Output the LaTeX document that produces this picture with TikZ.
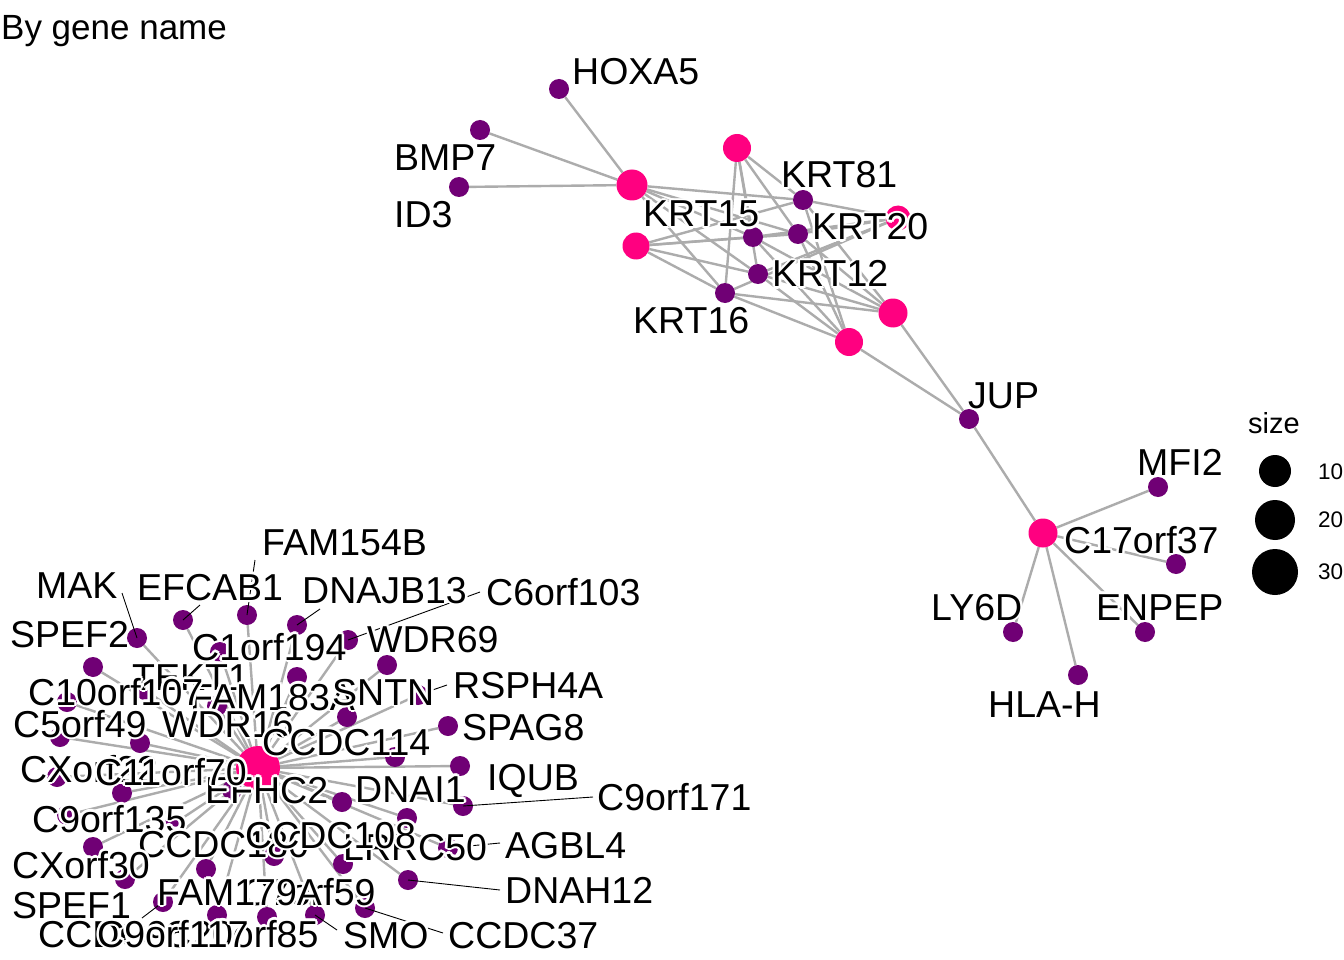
\documentclass[tikz,border=0pt]{standalone}
\usepackage{fontspec}
\setmainfont{Liberation Sans}
\usetikzlibrary{backgrounds}
\definecolor{catpink}{RGB}{255,0,128}
\definecolor{genepurple}{RGB}{112,0,117}
\definecolor{edgegrey}{RGB}{172,172,172}
\tikzset{
  gene/.style={circle,fill=genepurple,inner sep=0pt,minimum size=20pt},
  cat/.style={circle,fill=catpink,inner sep=0pt},
  edge/.style={draw=edgegrey,line width=2.4pt},
  leader/.style={draw=black,line width=0.9pt},
  lab/.style={font=\fontsize{37.5}{40}\selectfont,inner sep=0pt,anchor=base west},
  legdot/.style={circle,fill=black,inner sep=0pt},
}
\newcommand{\glab}[3]{%
  \foreach \hx/\hy in {2.6/0,-2.6/0,0/2.6,0/-2.6,1.85/1.85,-1.85/1.85,1.85/-1.85,-1.85/-1.85}{%
    \node[lab,text=white] at ([shift={(\hx pt,\hy pt)}]#2) {#3};}%
  \node[lab] (#1) at (#2) {#3};}
\begin{document}
\begin{tikzpicture}[x=1pt,y=-1pt]
\useasboundingbox (0,0) rectangle (1344,960);
% ---------- top cluster nodes
\node[gene] (HOXA5) at (559,89) {};
\node[gene] (BMP7) at (480,130) {};
\node[gene] (ID3) at (459,187) {};
\node[gene] (KRT81) at (803,200) {};
\node[gene] (KRT15) at (753,237) {};
\node[gene] (KRT20) at (798,234) {};
\node[gene] (KRT12) at (758,274) {};
\node[gene] (KRT16) at (725,293) {};
\node[gene] (JUP) at (969,419) {};
\node[cat,minimum size=31pt] (cA) at (632,185) {};
\node[cat,minimum size=28pt] (cB) at (737,148) {};
\node[cat,minimum size=27pt] (cC) at (636,246) {};
\node[cat,minimum size=25pt] (cD) at (898,218) {};
\node[cat,minimum size=29pt] (cE) at (893,313) {};
\node[cat,minimum size=28pt] (cF) at (849,342) {};
% ---------- right cluster
\node[gene] (MFI2) at (1158,487) {};
\node[gene] (C17orf37) at (1176,564) {};
\node[gene] (LY6D) at (1013,632) {};
\node[gene] (ENPEP) at (1145,632) {};
\node[gene] (HLAH) at (1078,675) {};
\node[cat,minimum size=29pt] (cG) at (1043,533) {};
% ---------- lower-left cluster
\foreach \i/\px/\py in {1/137/638,2/93/667,3/183/620,4/247/615,5/297/625,6/348/640,7/387/665,
  8/220/652,9/145/690,10/67/702,11/217/706,12/297/677,13/347/717,14/418/695,15/448/726,
  16/395/757,17/140/743,18/60/737,19/57/777,20/122/793,21/342/802,22/460/766,23/463/806,
  24/407/818,25/448/848,26/408/880,27/365/908,28/315/915,29/267/917,30/217/915,31/206/869,
  32/163/902,33/93/847,34/67/815,35/274/856,36/343/864,37/125/879,38/175/823,39/232/790}{
  \node[gene] (n\i) at (\px,\py) {};
}
\node[cat,minimum size=44pt] (cH) at (258,768) {};
% ---------- edges (behind)
\begin{pgfonlayer}{background}
\fill[white] (0,0) rectangle (1344,960);
\foreach \g in {HOXA5,BMP7,ID3} \draw[edge] (cA) -- (\g);
\foreach \c in {cA,cB,cC,cD,cE,cF}
  \foreach \g in {KRT81,KRT15,KRT20,KRT12,KRT16} \draw[edge] (\c) -- (\g);
\foreach \c in {cE,cF,cG} \draw[edge] (\c) -- (JUP);
\foreach \g in {MFI2,C17orf37,LY6D,ENPEP,HLAH} \draw[edge] (cG) -- (\g);
\foreach \i in {1,...,39} \draw[edge] (cH) -- (n\i);
\end{pgfonlayer}
% ---------- leader lines
\coordinate (mFAM154B) at (255,560);
\coordinate (mMAK) at (122,593);
\coordinate (mEFCAB1) at (200,605);
\coordinate (mDNAJB13) at (320,609);
\coordinate (mC6orf103) at (480,592);
\coordinate (mRSPH4A) at (447,685);
\coordinate (mC9orf171) at (593,797);
\coordinate (mAGBL4) at (500,843);
\coordinate (mDNAH12) at (500,890);
\coordinate (mCCDC37) at (443,933);
\coordinate (mSMO) at (337,930);
\coordinate (mSPEF1) at (142,918);
\draw[leader] (mFAM154B) -- (n4.center);
\draw[leader] (mMAK) -- (n1.center);
\draw[leader] (mEFCAB1) -- (n3.center);
\draw[leader] (mDNAJB13) -- (n5.center);
\draw[leader] (mC6orf103) -- (n6.center);
\draw[leader] (mRSPH4A) -- (n14.center);
\draw[leader] (mC9orf171) -- (n23.center);
\draw[leader] (mAGBL4) -- (n25.center);
\draw[leader] (mDNAH12) -- (n26.center);
\draw[leader] (mCCDC37) -- (n27.center);
\draw[leader] (mSMO) -- (n28.center);
\draw[leader] (mSPEF1) -- (n32.center);
% ---------- title
\node[font=\fontsize{35}{38}\selectfont,inner sep=0pt,anchor=base west] (title) at (1,40) {By gene name};
% ---------- labels top
\glab{lHOXA5}{572,85}{HOXA5}
\glab{lBMP7}{394,171}{BMP7}
\glab{lID3}{394,228}{ID3}
\glab{lKRT81}{781,188}{KRT81}
\glab{lKRT15}{643,227}{KRT15}
\glab{lKRT20}{812,240}{KRT20}
\glab{lKRT12}{772,287}{KRT12}
\glab{lKRT16}{633,333}{KRT16}
\glab{lJUP}{968,408}{JUP}
\glab{lMFI2}{1137,475}{MFI2}
\glab{lC17orf37}{1064,553}{C17orf37}
\glab{lLY6D}{931,620}{LY6D}
\glab{lENPEP}{1096,620}{ENPEP}
\glab{lHLAH}{988,717}{HLA-H}
% ---------- labels lower-left
\glab{lFAM154B}{262,555}{FAM154B}
\glab{lMAK}{36,598}{MAK}
\glab{lEFCAB1}{137,600}{EFCAB1}
\glab{lDNAJB13}{302,603}{DNAJB13}
\glab{lC6orf103}{486,605}{C6orf103}
\glab{lSPEF2}{10,647}{SPEF2}
\glab{lC1orf194}{192,660}{C1orf194}
\glab{lWDR69}{367,652}{WDR69}
\glab{lTEKT1}{132,690}{TEKT1}
\glab{lRSPH4A}{453,698}{RSPH4A}
\glab{lFAM183A}{190,710}{FAM183A}
\glab{lC10orf107}{28,705}{C10orf107}
\glab{lSNTN}{332,705}{SNTN}
\glab{lSPAG8}{462,740}{SPAG8}
\glab{lC5orf49}{13,737}{C5orf49}
\glab{lWDR16}{162,737}{WDR16}
\glab{lCCDC114}{262,755}{CCDC114}
\glab{lCXorf22}{20,782}{CXorf22}
\glab{lEFHC2}{205,803}{EFHC2}
\glab{lC11orf70}{95,785}{C11orf70}
\glab{lIQUB}{487,790}{IQUB}
\glab{lDNAI1}{355,802}{DNAI1}
\glab{lC9orf171}{597,810}{C9orf171}
\glab{lC9orf135}{32,832}{C9orf135}
\glab{lCCDC180}{138,857}{CCDC180}
\glab{lLRRC50}{343,860}{LRRC50}
\glab{lCCDC108}{245,848}{CCDC108}
\glab{lAGBL4}{505,858}{AGBL4}
\glab{lCXorf30}{12,878}{CXorf30}
\glab{lDNAH12}{505,903}{DNAH12}
\glab{lC7orf59}{242,905}{C7orf59}
\glab{lFAM179A}{157,905}{FAM179A}
\glab{lSPEF1}{12,918}{SPEF1}
\glab{lCCDC96}{38,947}{CCDC96}
\glab{lC20orf85}{164,947}{C20orf85}
\glab{lC9orf117}{97,947}{C9orf117}
\glab{lSMO}{343,948}{SMO}
\glab{lCCDC37}{448,948}{CCDC37}
% ---------- legend
\node[font=\fontsize{29}{30}\selectfont,inner sep=0pt,anchor=base west] (legtitle) at (1248,433) {size};
\node[legdot,minimum size=32pt] (l10) at (1275,471) {};
\node[legdot,minimum size=40pt] (l20) at (1275,520) {};
\node[legdot,minimum size=46pt] (l30) at (1275,572) {};
\node[font=\fontsize{22.5}{24}\selectfont,inner sep=0pt,anchor=west] (t10) at (1318,472) {10};
\node[font=\fontsize{22.5}{24}\selectfont,inner sep=0pt,anchor=west] (t20) at (1318,520) {20};
\node[font=\fontsize{22.5}{24}\selectfont,inner sep=0pt,anchor=west] (t30) at (1318,572) {30};
\end{tikzpicture}
\end{document}
